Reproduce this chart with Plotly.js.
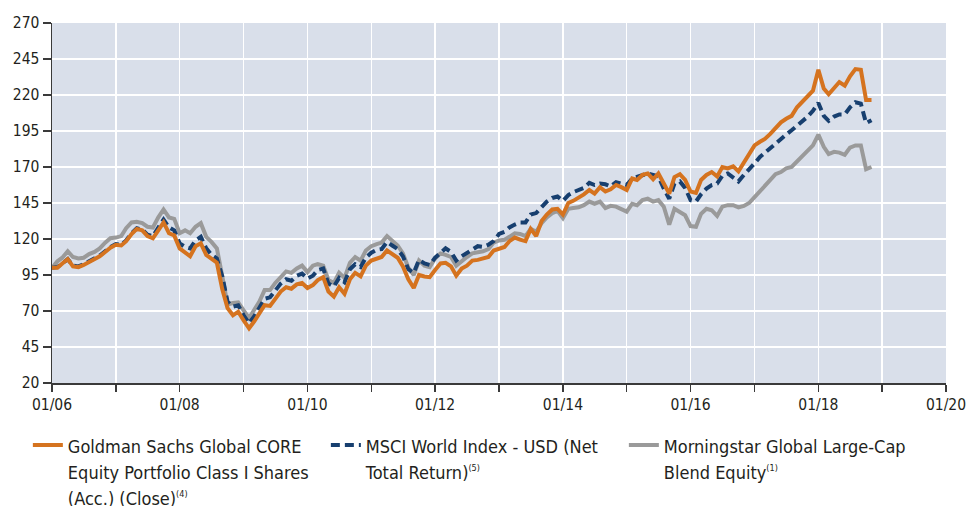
<!DOCTYPE html>
<html>
<head>
<meta charset="utf-8">
<script src="https://cdn.plot.ly/plotly-3.0.1.min.js"></script>
<style>
  html, body { margin: 0; padding: 0; background: #ffffff; }
  #chart { width: 967px; height: 506px; }
</style>
</head>
<body>
<div id="chart"></div>
<script>
// Monthly observations, starting January 2006 (growth of 100)
const startYear = 2006;

const goldmanSachs = [
  100, 100, 103, 106, 101, 100.5, 102, 104, 105.5, 108, 111, 114,
  116, 115.5, 118.5, 123.5, 127, 126, 122, 120.5, 126, 131.5, 124, 122.5,
  113.5, 111, 108, 115, 117, 109, 106, 103.5, 85, 72, 67, 69.5,
  63.5, 58, 62.5, 68, 74, 73.5, 78.5, 83.5, 86.5, 85.5, 88.5, 89.5,
  86, 88, 91.5, 93.5, 83.5, 80, 86.5, 82, 92, 96.5, 94, 101.5,
  105, 106.5, 107.5, 112, 109.5, 107, 101, 92, 86, 95, 94, 93.5,
  98.5, 103, 103.5, 101, 94.5, 99.5, 101.5, 105, 105.5, 106.5, 107.5, 112,
  113.5, 114.5, 118.5, 121, 119.5, 118.5, 127, 122, 132.5, 137, 140.5, 141,
  137, 145, 146.5, 148.5, 151, 154, 151.5, 156, 153, 154.5, 157.5, 156,
  154, 162, 161, 164.5, 165.5, 161.5, 165.5, 158.5, 151.5, 163, 165, 161,
  153, 152, 161, 164.5, 166.5, 163.5, 170, 169, 170.5, 167, 173.5, 178.5,
  185, 187.5, 189.5, 193, 196.5, 201, 203.5, 205.5, 211.5, 215.5, 219, 223,
  237.5, 224.5, 220.5, 224.5, 229, 226.5, 233, 238, 237.5, 216.5, 216.5
];

const msciWorld = [
  100, 100.5, 103, 106, 101.5, 101, 102.5, 104.5, 106, 108.5, 111.5, 114.5,
  116.5, 116, 119, 124, 127.5, 126.5, 123, 122, 128, 133.5, 128, 126,
  117, 114.5, 113.5, 119, 121.5, 113.5, 109, 106.5, 94, 76.5, 73, 74,
  67, 61.5, 66, 72, 78.5, 79.5, 84.5, 89, 92, 91, 94.5, 96,
  92.5, 94.5, 98.5, 99.5, 89, 87, 93, 90, 99, 102.5, 100.5, 107,
  110.5, 112.5, 113, 118, 115.5, 113, 108, 99, 96.5, 105.5, 103, 102,
  107, 110.5, 113.5, 111, 105, 108, 110.5, 112.5, 115, 114.5, 116, 118.5,
  123.5, 125, 128, 130, 131.5, 131.5, 137, 138, 142.5, 146, 148.5, 149.5,
  146.5, 150.5, 152.5, 154, 155.5, 159, 157.5, 158.5, 158, 156.5, 159.5, 158.5,
  157.5, 162, 163, 164.5, 165.5, 164.5, 163.5, 155, 148, 158.5, 160, 155.5,
  147, 146, 151, 155, 157.5, 158.5, 164, 165.5, 162.5, 160, 164.5, 168,
  172.5, 177, 180, 183.5, 186, 189.5, 192.5, 195.5, 198.5, 201.5, 205, 209,
  214.5, 205.5, 202, 205, 206.5, 206.5, 211.5, 215, 214, 200.5, 202.5
];

const morningstarBlend = [
  100, 104.5, 107, 111.5, 107.5, 106.5, 107, 109.5, 111, 113.5, 117.5, 120.5,
  121, 122, 127.5, 131.5, 132, 131, 128.5, 128, 135, 140.5, 135, 134,
  124, 126, 124, 128.5, 131, 121.5, 118, 113.5, 94, 74.5, 75.5, 76,
  70.5, 65, 70.5, 76.5, 84.5, 84.5, 89.5, 93.5, 97.5, 96.5, 99.5, 101.5,
  97, 101.5, 102.5, 101.5, 91.5, 89.5, 96.5, 93, 103.5, 107.5, 105, 112,
  115, 116.5, 117.5, 122, 118.5, 115.5, 110, 100, 95, 105, 101.5, 100.5,
  106.5, 110, 109, 107.5, 101.5, 105, 107.5, 110, 110.5, 111.5, 113, 117.5,
  119, 119.5, 121.5, 124, 123.5, 122, 127, 125, 131, 135, 138, 139.5,
  134.5, 141, 141.5, 142, 143.5, 146, 144.5, 146, 141.5, 143, 142.5, 140.5,
  139, 144.5, 143.5, 147, 148, 146, 147, 142.5, 130, 141, 139, 136.5,
  129, 128.5, 137.5, 141, 140, 136, 142.5, 143.5, 143.5, 142, 143, 145,
  149, 153, 156.5, 161, 165, 166.5, 169, 170, 174, 177.5, 181.5, 185,
  192.5, 184, 179, 180.5, 180, 178.5, 183.5, 185, 185, 168.5, 170
];

const seriesLines = [
  ['Goldman Sachs Global CORE', 'Equity Portfolio Class I Shares', '(Acc.) (Close)'],
  ['MSCI World Index - USD (Net', 'Total Return)'],
  ['Morningstar Global Large-Cap', 'Blend Equity']
];
const seriesNotes = ['(4)', '(5)', '(1)'];

const yTickVals = [20, 45, 70, 95, 120, 145, 170, 195, 220, 245, 270];

function monthDates(n) {
  const out = [];
  for (let i = 0; i < n; i++) {
    const y = startYear + Math.floor(i / 12);
    const m = (i % 12) + 1;
    out.push(y + '-' + (m < 10 ? '0' + m : m) + '-01');
  }
  return out;
}

function legendName(k) {
  return '<span style="font-size:18px">' + seriesLines[k].join('<br>') +
    '<sup><span style="font-size:9px">' + seriesNotes[k] + '</span></sup></span>';
}

const FONT = '"DejaVu Sans Condensed", "DejaVu Sans", sans-serif';

const traces = [
  {
    x: monthDates(morningstarBlend.length), y: morningstarBlend, name: legendName(2),
    type: 'scatter', mode: 'lines',
    line: { color: '#9a9a9a', width: 4 }, legendrank: 3
  },
  {
    x: monthDates(msciWorld.length), y: msciWorld, name: legendName(1),
    type: 'scatter', mode: 'lines',
    line: { color: '#173f6f', width: 4, dash: '9px,5px' }, legendrank: 2
  },
  {
    x: monthDates(goldmanSachs.length), y: goldmanSachs, name: legendName(0),
    type: 'scatter', mode: 'lines',
    line: { color: '#d5731f', width: 4 }, legendrank: 1
  }
];

const layout = {
  width: 967, height: 506,
  margin: { l: 52, r: 21, t: 23, b: 123, autoexpand: false },
  paper_bgcolor: '#ffffff',
  plot_bgcolor: '#d9dfea',
  font: { family: FONT, size: 15, color: '#231f20' },
  showlegend: true,
  legend: {
    orientation: 'h',
    x: -0.027, xanchor: 'left',
    y: -0.118, yanchor: 'top',
    entrywidth: 253, entrywidthmode: 'pixels',
    itemwidth: 30,
    valign: 'top',
    traceorder: 'normal',
    font: { family: FONT, size: 20, color: '#231f20' },
    bgcolor: 'rgba(0,0,0,0)'
  },
  xaxis: {
    type: 'date',
    range: ['2006-01-01', '2020-01-01'],
    tick0: '2006-01-01', dtick: 'M24',
    tickformat: '%m/%y',
    ticks: 'outside', ticklen: 7, tickwidth: 1.5, tickcolor: '#3a3a3a',
    showline: true, linecolor: '#3a3a3a', linewidth: 1.5,
    showgrid: true, gridcolor: '#ffffff', gridwidth: 1.5,
    minor: { dtick: 'M12', tick0: '2006-01-01', ticks: 'outside', ticklen: 7, tickwidth: 1.5, tickcolor: '#3a3a3a', showgrid: true, gridcolor: '#ffffff', gridwidth: 1.5 },
    zeroline: false, fixedrange: true,
    tickfont: { family: FONT, size: 15.5, color: '#231f20' }
  },
  yaxis: {
    range: [20, 270],
    tickvals: yTickVals,
    ticks: 'outside', ticklen: 8, tickwidth: 1.5, tickcolor: '#3a3a3a',
    showline: true, linecolor: '#3a3a3a', linewidth: 1.5,
    showgrid: true, gridcolor: '#ffffff', gridwidth: 1.5,
    zeroline: false, fixedrange: true,
    tickfont: { family: FONT, size: 15.5, color: '#231f20' }
  }
};

Plotly.newPlot('chart', traces, layout, { displayModeBar: false, staticPlot: true });
</script>
</body>
</html>
